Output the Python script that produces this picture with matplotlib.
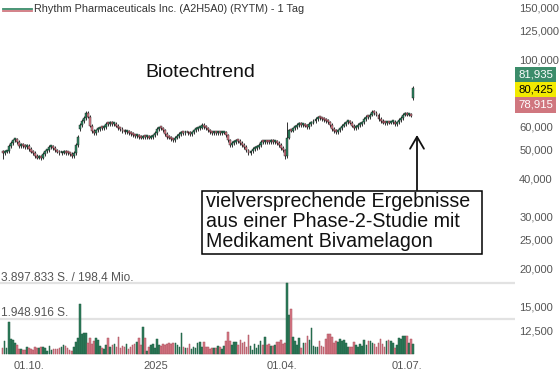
import numpy as np
import matplotlib
matplotlib.use("Agg")
import matplotlib.pyplot as plt
from matplotlib.patches import Rectangle, FancyArrowPatch
from matplotlib.lines import Line2D
from matplotlib.ticker import FixedLocator, FuncFormatter, NullLocator
import matplotlib.transforms as mtransforms

plt.rcParams['font.family'] = ['Liberation Sans', 'DejaVu Sans']

# ---------------- data ----------------
title = "Rhythm Pharmaceuticals Inc. (A2H5A0) (RYTM) - 1 Tag"
headline = "Biotechtrend"
note_lines = ["vielversprechende Ergebnisse",
              "aus einer Phase-2-Studie mit",
              "Medikament Bivamelagon"]

closes = [
    48.8, 49.2, 49.5, 51.5, 52.7, 53.9, 54.3, 53.1, 51.5, 51.9,
    51.5, 51.1, 51.5, 50.3, 49.2, 48.8, 47.7, 47.0, 47.3, 47.0,
    48.4, 49.5, 49.9, 51.1, 51.1, 50.7, 49.9, 49.2, 48.8, 48.9,
    49.2, 48.8, 48.7, 48.4, 47.7, 48.8, 51.9, 55.2, 60.5, 62.4,
    63.9, 66.4, 64.4, 60.1, 57.8, 56.9, 58.2, 58.7, 59.1, 59.0,
    59.6, 61.0, 60.8, 61.5, 61.0, 61.1, 60.1, 59.1, 58.7, 57.8,
    57.3, 57.4, 56.9, 56.5, 56.0, 55.6, 55.7, 55.2, 54.8, 55.2,
    55.0, 55.3, 54.8, 55.2, 56.0, 56.9, 58.7, 59.1, 59.0, 58.2,
    56.5, 55.2, 54.8, 54.3, 53.9, 54.8, 55.6, 56.5, 56.9, 56.8,
    57.0, 56.9, 56.5, 57.3, 58.2, 58.7, 59.1, 59.2, 60.5, 59.6,
    59.1, 58.2, 57.3, 56.9, 57.0, 56.8, 57.3, 56.9, 57.0, 57.3,
    56.0, 53.9, 51.9, 52.7, 53.1, 53.9, 53.5, 52.7, 51.9, 51.1,
    49.9, 48.8, 49.5, 50.3, 50.7, 51.1, 51.9, 53.1, 53.0, 53.2,
    53.1, 53.0, 53.5, 53.1, 53.2, 52.7, 51.9, 50.7, 49.9, 47.7,
    54.8, 58.2, 58.0, 59.1, 59.6, 60.5, 61.0, 60.5, 60.6, 60.1,
    59.6, 61.0, 61.5, 62.4, 63.4, 63.9, 63.8, 63.4, 62.9, 62.4,
    61.9, 60.5, 58.7, 57.8, 57.3, 58.2, 59.1, 60.1, 61.0, 61.9,
    62.0, 61.5, 60.1, 59.1, 59.6, 60.5, 61.0, 61.9, 63.4, 64.4,
    64.3, 65.4, 66.9, 66.4, 65.4, 63.4, 62.4, 61.5, 61.4, 61.6,
    61.5, 61.9, 62.0, 61.0, 61.9, 62.9, 63.9, 65.4, 65.9, 65.4,
    65.5, 64.9, 80.4,
]
first_open = 49.5
gap_opens = {38: 58.5, 140: 47.5, 202: 74.5}
long_highs = {41: 67.6, 140: 61.9, 182: 67.8, 202: 81.9}
long_lows = {0: 46.7, 19: 46.3, 121: 47.9, 139: 46.5}

volumes_k = [
    309, 710, 346, 1765, 819, 746, 582, 491, 273, 273,
    237, 218, 400, 346, 273, 218, 400, 346, 309, 400,
    400, 309, 164, 437, 218, 273, 273, 273, 346, 400,
    491, 455, 309, 218, 164, 400, 637, 892, 2730, 1074,
    1128, 1128, 582, 855, 546, 710, 855, 764, 455, 346,
    273, 491, 855, 400, 491, 528, 400, 946, 346, 455,
    400, 528, 273, 400, 491, 528, 673, 855, 491, 1492,
    892, 164, 400, 491, 528, 309, 819, 491, 455, 528,
    491, 528, 582, 528, 582, 582, 491, 400, 1128, 400,
    346, 346, 528, 273, 400, 309, 582, 673, 400, 637,
    400,
    371, 278, 316, 316, 316, 445, 408, 260, 445, 724,
    1188, 687, 501, 650, 650, 501, 742, 594, 650, 408,
    1021, 464, 223, 538, 316, 501, 724, 501, 928, 501,
    538, 464, 464, 501, 650, 650, 780, 557, 594, 3897.833,
    2116, 2450, 928, 687, 501, 872, 316, 631, 594, 1002,
    780, 1429, 464, 371, 408, 687, 464, 371, 817, 1095,
    1114, 928, 594, 724, 650, 817, 687, 742, 594, 408,
    408, 408, 650, 501, 408, 557, 464, 780, 501, 724,
    724, 594, 557, 408, 594, 817, 557, 408, 687, 742,
    724, 631, 316, 501, 872, 817, 965, 1002, 965, 631,
    817, 557,
]
turnover_mio = "198,4"
badge_values = [81.935, 80.425, 78.915]
price_ticks = [150, 125, 100, 60, 50, 40, 30, 25, 20, 15, 12.5]
date_tick_pos = [13.2, 75.5, 137.5, 199]
date_tick_labels = ["01.10.", "2025", "01.04.", "01.07."]

assert len(closes) == len(volumes_k), (len(closes), len(volumes_k))

# ---------------- layout ----------------
W, H = 559, 374
fig = plt.figure(figsize=(W / 100, H / 100), dpi=100)
fig.patch.set_facecolor("white")


def fx(x):
    return x / W


def fy(y):
    return 1 - y / H


PLOT_R, PLOT_B = 515, 355
ax = fig.add_axes([0, fy(PLOT_B), PLOT_R / W, PLOT_B / H])
ax2 = fig.add_axes([0, fy(PLOT_B), PLOT_R / W, PLOT_B / H], sharex=ax)
ax2.patch.set_visible(False)

px_per_day = 2.032
x0_px = 2.6
ax.set_xlim(-x0_px / px_per_day, (PLOT_R - x0_px) / px_per_day)

# log price scale: 150 at y=7 px, 130 px per e-fold
pmax = 150 * np.exp(7 / 130)
pmin = 150 * np.exp(-(PLOT_B - 7) / 130)
ax.set_yscale("log")
ax.set_ylim(pmin, pmax)

for a in (ax, ax2):
    for s in a.spines.values():
        s.set_visible(False)

green, red = "#2f8a64", "#e47f8d"

c = np.array(closes, dtype=float)
o = np.array([first_open] + closes[:-1], dtype=float)
for k, v in gap_opens.items():
    o[k] = v
n = len(c)
x = np.arange(n)
up = c >= o
hi = np.maximum(o, c) * 1.012
lo = np.minimum(o, c) * 0.988
for k, v in long_highs.items():
    hi[k] = v
for k, v in long_lows.items():
    lo[k] = v

ax.vlines(x, lo, hi, color="#111111", lw=0.6, zorder=2)
body_lo = np.minimum(o, c)
body_h = np.maximum(np.abs(c - o), body_lo * 0.015)
ax.bar(x, body_h, bottom=body_lo, width=0.95,
       color=np.where(up, green, red), edgecolor="#111111", linewidth=0.3, zorder=3)

ax.yaxis.tick_right()
ax.yaxis.set_major_locator(FixedLocator(price_ticks))
ax.yaxis.set_minor_locator(NullLocator())
ax.yaxis.set_major_formatter(FuncFormatter(lambda v, p: f"{v:.3f}".replace(".", ",")))
ax.tick_params(axis="y", length=0, pad=3, labelsize=8, labelcolor="#555555")
ax.set_xticks(date_tick_pos)
ax.set_xticklabels(date_tick_labels)
ax.tick_params(axis="x", length=0, pad=4.5, labelsize=8, labelcolor="#555555")

# volume
vol = np.array(volumes_k)
vmax = vol.max()
kpp = vmax / 71.0  # thousands per pixel
ax2.set_ylim(-kpp * 1, vmax + kpp * 283)
ax2.bar(x, vol, width=0.8, color=np.where(up, "#2e7d5b", "#d87a86"),
        edgecolor=np.where(up, "#1d5a40", "#a8505d"), linewidth=0.35, zorder=3)
ax2.set_yticks([])
ax2.tick_params(axis="x", length=0, labelbottom=False)


def de(n_):
    return f"{int(n_):,}".replace(",", ".")


trans = mtransforms.blended_transform_factory(ax2.transAxes, ax2.transData)
for val, lab in [(vmax, f"{de(vmax * 1000)} S. / {turnover_mio} Mio."),
                 (vmax / 2, f"{de(vmax * 1000 / 2)} S.")]:
    ax2.axhline(val, color="#e2e2e2", lw=1.6, zorder=1)
    ax2.text(0.002, val + kpp * 2.5, lab, transform=trans,
             fontsize=8.6, color="#555555", va="baseline", ha="left", zorder=2)

# title / legend
fig.add_artist(Line2D([fx(3), fx(32)], [fy(9.2)] * 2, color="#3b8c6a", lw=1.3))
fig.add_artist(Line2D([fx(3), fx(32)], [fy(11.2)] * 2, color="#d0777f", lw=1.3))
fig.text(fx(34), fy(12.5), title, fontsize=7.8, color="#333333", va="baseline")

fig.text(fx(145), fy(77), headline, fontsize=14, color="#111111", va="baseline")

# badges
badge_cols = [("#3b8c6a", "white"), ("#f2ea00", "black"), ("#d0777f", "white")]
tops = [67, 82, 97]
for val, (bg, fg), t in zip(badge_values, badge_cols, tops):
    fig.add_artist(Rectangle((fx(515), fy(t + 15.5)), 41 / W, 15.5 / H,
                             transform=fig.transFigure, facecolor=bg, edgecolor="none"))
    fig.text(fx(535.5), fy(t + 7.8), f"{val:.3f}".replace(".", ","), fontsize=8.2,
             color=fg, ha="center", va="center")

# annotation box + arrow
fig.add_artist(Rectangle((fx(202), fy(254)), 280 / W, 63 / H, transform=fig.transFigure,
                         facecolor="white", edgecolor="black", lw=1.1, zorder=5))
for i, line in enumerate(note_lines):
    fig.text(fx(206), fy(207 + 20 * i), line, fontsize=14.1, color="#111111",
             va="baseline", zorder=6)
arrow = FancyArrowPatch(posA=(fx(417), fy(190)), posB=(fx(417), fy(135)),
                        transform=fig.transFigure,
                        arrowstyle="->,head_length=0.86,head_width=0.5",
                        mutation_scale=10, lw=1.3, color="#111111",
                        shrinkA=0, shrinkB=0)
fig.add_artist(arrow)

fig.savefig("out.png", dpi=100, facecolor="white")
